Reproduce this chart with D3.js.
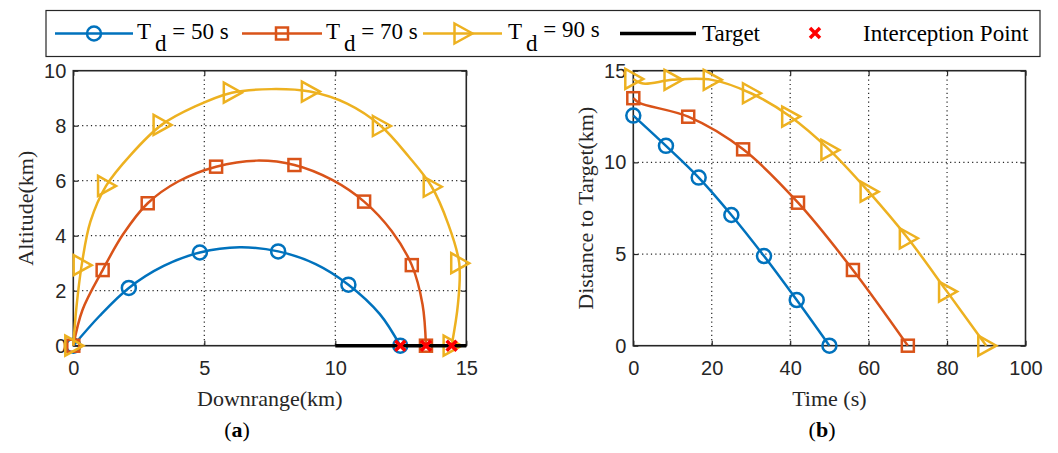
<!DOCTYPE html>
<html>
<head>
<meta charset="utf-8">
<script src="https://cdn.jsdelivr.net/npm/d3@7"></script>
<style>
  body { margin: 0; background: #fff; }
  svg { display: block; }
</style>
</head>
<body>
<svg id="chart" width="1058" height="453"></svg>
<script>
// ---- data ----
var seriesNames = ['50', '70', '90'];
var seriesColors = ['#0072BD', '#D95319', '#EDB120'];

// (a) trajectories: downrange (km) vs altitude (km)
var blueRangeX = [0, 1.0, 2.12, 3.45, 4.83, 6.35, 7.82, 9.25, 10.5, 11.7, 12.48];
var blueAltY   = [0, 1.08, 2.10, 2.9, 3.39, 3.58, 3.43, 2.97, 2.22, 1.15, 0];
var blueMarksA = [0, 2, 4, 6, 8, 10];

var orangeRangeX = [0, 0.35, 1.12, 1.9, 2.84, 4.0, 5.45, 7.0, 8.44, 9.9, 11.1, 12.15, 12.92, 13.33, 13.46];
var orangeAltY   = [0, 1.3, 2.75, 4.05, 5.18, 5.97, 6.51, 6.73, 6.57, 6.02, 5.24, 4.17, 2.93, 1.5, 0];
var orangeMarksA = [0, 2, 4, 6, 8, 10, 12, 14];

var yellowRangeX = [0, 0.12, 0.32, 0.65, 1.25, 2.2, 3.37, 4.65, 6.05, 7.55, 9.03, 10.45, 11.74, 12.8, 13.68, 14.3, 14.73, 14.68, 14.44];
var yellowAltY   = [0, 1.4, 2.93, 4.5, 5.81, 6.95, 8.03, 8.7, 9.2, 9.33, 9.24, 8.8, 7.99, 6.88, 5.78, 4.45, 3.0, 1.5, 0];
var yellowMarksA = [0, 2, 4, 6, 8, 10, 12, 14, 16, 18];

var targetX = [10, 15];
var targetY = [0, 0];
var interceptX = [12.48, 13.46, 14.44];
var interceptY = [0, 0, 0];

// (b) distance to target (km) vs time (s)
var blueTime = [0, 8.33, 16.67, 25, 33.33, 41.67, 50];
var blueDist = [12.55, 10.9, 9.17, 7.13, 4.89, 2.49, 0];
var blueMarksB = [0, 1, 2, 3, 4, 5, 6];

var orangeTime = [0, 1.5, 14, 28, 42, 56, 70];
var orangeDist = [13.5, 13.25, 12.49, 10.71, 7.8, 4.13, 0];
var orangeMarksB = [0, 2, 3, 4, 5, 6];

var yellowTime = [0, 2.5, 10, 20, 30, 40, 50, 60, 70, 80, 90];
var yellowDist = [14.55, 14.3, 14.5, 14.5, 13.77, 12.5, 10.68, 8.4, 5.86, 2.95, 0];
var yellowMarksB = [0, 2, 3, 4, 5, 6, 7, 8, 9, 10];

var ticksAX = [0, 5, 10, 15];
var ticksAY = [0, 2, 4, 6, 8, 10];
var ticksBX = [0, 20, 40, 60, 80, 100];
var ticksBY = [0, 5, 10, 15];

var svg = d3.select('#chart');
var axisColor = '#262626';
var serif = '"Liberation Serif", "Times New Roman", serif';
var sans = '"Liberation Sans", Arial, sans-serif';

function zip(xs, ys) {
  return xs.map(function(x, i) { return [x, ys[i]]; });
}

// marker shapes (unfilled, like matlab)
function drawMarker(g, kind, px, py, color) {
  if (kind === 0) {
    g.append('circle').attr('cx', px).attr('cy', py).attr('r', 7)
      .attr('fill', 'none').attr('stroke', color).attr('stroke-width', 2.5);
  } else if (kind === 1) {
    g.append('rect').attr('x', px - 6).attr('y', py - 6).attr('width', 12).attr('height', 12)
      .attr('fill', 'none').attr('stroke', color).attr('stroke-width', 2.5);
  } else {
    g.append('path')
      .attr('d', 'M' + (px - 8) + ',' + (py - 10) + 'L' + (px + 10) + ',' + py + 'L' + (px - 8) + ',' + (py + 10) + 'Z')
      .attr('fill', 'none').attr('stroke', color).attr('stroke-width', 2.5).attr('stroke-linejoin', 'miter');
  }
}

function drawCross(g, px, py) {
  var s = 5;
  g.append('path')
    .attr('d', 'M' + (px - s) + ',' + (py - s) + 'L' + (px + s) + ',' + (py + s) +
               'M' + (px - s) + ',' + (py + s) + 'L' + (px + s) + ',' + (py - s))
    .attr('stroke', '#ff0000').attr('stroke-width', 3.5).attr('fill', 'none');
}

function makePanel(opt) {
  var x = d3.scaleLinear().domain(opt.xDomain).range([opt.left, opt.right]);
  var y = d3.scaleLinear().domain(opt.yDomain).range([opt.bottom, opt.top]);
  var g = svg.append('g');

  // dotted grid
  var grid = g.append('g').attr('stroke', axisColor).attr('stroke-width', 1.2)
    .attr('stroke-dasharray', '1.2,3.2');
  opt.xTicks.slice(1, -1).forEach(function(t) {
    grid.append('line').attr('x1', x(t)).attr('x2', x(t)).attr('y1', opt.top).attr('y2', opt.bottom);
  });
  opt.yTicks.slice(1, -1).forEach(function(t) {
    grid.append('line').attr('x1', opt.left).attr('x2', opt.right).attr('y1', y(t)).attr('y2', y(t));
  });

  // axes with inward ticks on all four sides
  var bottomAxis = g.append('g').attr('transform', 'translate(0,' + opt.bottom + ')')
    .call(d3.axisBottom(x).tickValues(opt.xTicks).tickSize(-5).tickSizeOuter(0).tickPadding(15));
  var leftAxis = g.append('g').attr('transform', 'translate(' + opt.left + ',0)')
    .call(d3.axisLeft(y).tickValues(opt.yTicks).tickSize(-5).tickSizeOuter(0).tickPadding(7));
  g.append('g').attr('transform', 'translate(0,' + opt.top + ')')
    .call(d3.axisTop(x).tickValues(opt.xTicks).tickSize(-5).tickSizeOuter(0).tickFormat(''));
  g.append('g').attr('transform', 'translate(' + opt.right + ',0)')
    .call(d3.axisRight(y).tickValues(opt.yTicks).tickSize(-5).tickSizeOuter(0).tickFormat(''));
  g.selectAll('.domain').remove();
  g.selectAll('.tick line').attr('stroke', axisColor).attr('stroke-width', 1.2);
  g.selectAll('.tick text').attr('fill', axisColor).style('font-family', sans).style('font-size', '20px');

  g.append('rect').attr('x', opt.left).attr('y', opt.top)
    .attr('width', opt.right - opt.left).attr('height', opt.bottom - opt.top)
    .attr('fill', 'none').attr('stroke', axisColor).attr('stroke-width', 1.6);

  // axis titles
  g.append('text').attr('x', (opt.left + opt.right) / 2).attr('y', 406)
    .attr('text-anchor', 'middle').style('font-family', serif).style('font-size', '22px')
    .attr('fill', axisColor).text(opt.xLabel);
  g.append('text').attr('transform', 'translate(' + opt.yLabelX + ',' + ((opt.top + opt.bottom) / 2) + ') rotate(-90)')
    .attr('text-anchor', 'middle').style('font-family', serif).style('font-size', '22px')
    .attr('fill', axisColor).text(opt.yLabel);
  var cap = g.append('text').attr('x', opt.capX).attr('y', 437).attr('text-anchor', 'middle')
    .style('font-family', serif).style('font-size', '22px').attr('fill', '#000');
  cap.append('tspan').text('(');
  cap.append('tspan').style('font-weight', 'bold').text(opt.caption);
  cap.append('tspan').text(')');

  var line = d3.line().x(function(d) { return x(d[0]); }).y(function(d) { return y(d[1]); })
    .curve(d3.curveCatmullRom.alpha(0.5));

  opt.series.forEach(function(s, k) {
    var pts = zip(s.xs, s.ys);
    g.append('path').attr('d', line(pts)).attr('fill', 'none')
      .attr('stroke', seriesColors[k]).attr('stroke-width', 2.5);
    var mg = g.append('g');
    s.marks.forEach(function(i) {
      drawMarker(mg, k, x(pts[i][0]), y(pts[i][1]), seriesColors[k]);
    });
  });

  if (opt.extra) opt.extra(g, x, y);
}

makePanel({
  left: 73.3, right: 466.3, top: 70.7, bottom: 345.7,
  xDomain: [0, 15], yDomain: [0, 10], xTicks: ticksAX, yTicks: ticksAY,
  xLabel: 'Downrange(km)', yLabel: 'Altitude(km)', yLabelX: 33, capX: 237, caption: 'a',
  series: [
    { xs: blueRangeX, ys: blueAltY, marks: blueMarksA },
    { xs: orangeRangeX, ys: orangeAltY, marks: orangeMarksA },
    { xs: yellowRangeX, ys: yellowAltY, marks: yellowMarksA }
  ],
  extra: function(g, x, y) {
    g.append('line').attr('x1', x(targetX[0])).attr('x2', x(targetX[1]))
      .attr('y1', y(targetY[0])).attr('y2', y(targetY[1]))
      .attr('stroke', '#000').attr('stroke-width', 3.5);
    interceptX.forEach(function(v, i) { drawCross(g, x(v), y(interceptY[i])); });
  }
});

makePanel({
  left: 633.3, right: 1025.5, top: 70.7, bottom: 345.7,
  xDomain: [0, 100], yDomain: [0, 15], xTicks: ticksBX, yTicks: ticksBY,
  xLabel: 'Time (s)', yLabel: 'Distance to Target(km)', yLabelX: 593, capX: 822, caption: 'b',
  series: [
    { xs: blueTime, ys: blueDist, marks: blueMarksB },
    { xs: orangeTime, ys: orangeDist, marks: orangeMarksB },
    { xs: yellowTime, ys: yellowDist, marks: yellowMarksB }
  ]
});

// ---- legend ----
var lg = svg.append('g');
lg.append('rect').attr('x', 46).attr('y', 10.5).attr('width', 994).attr('height', 46)
  .attr('fill', '#fff').attr('stroke', axisColor).attr('stroke-width', 1.2);
var legendLineX = [[55, 133], [242, 322], [423, 502]];
var legendTextX = [137, 326, 508];
var legendY = 33.5;
seriesNames.forEach(function(name, k) {
  lg.append('line').attr('x1', legendLineX[k][0]).attr('x2', legendLineX[k][1])
    .attr('y1', legendY).attr('y2', legendY)
    .attr('stroke', seriesColors[k]).attr('stroke-width', 2.5);
  drawMarker(lg, k, (legendLineX[k][0] + legendLineX[k][1]) / 2, legendY, seriesColors[k]);
  var t = lg.append('text').attr('x', legendTextX[k]).attr('y', 38.5)
    .style('font-family', serif).style('font-size', '23px').attr('fill', '#000');
  t.append('tspan').text('T');
  t.append('tspan').attr('dx', 4).attr('dy', 12.5).text('d');
  t.append('tspan').attr('dy', k === 2 ? -14.5 : -12.5).text(' = ' + name + ' s');
});
lg.append('line').attr('x1', 620).attr('x2', 696).attr('y1', legendY).attr('y2', legendY)
  .attr('stroke', '#000').attr('stroke-width', 3.5);
lg.append('text').attr('x', 702).attr('y', 41).style('font-family', serif).style('font-size', '23px')
  .attr('fill', '#000').text('Target');
drawCross(lg, 815, 33);
lg.append('text').attr('x', 863).attr('y', 41).style('font-family', serif).style('font-size', '23px')
  .attr('fill', '#000').text('Interception Point');
</script>
</body>
</html>
